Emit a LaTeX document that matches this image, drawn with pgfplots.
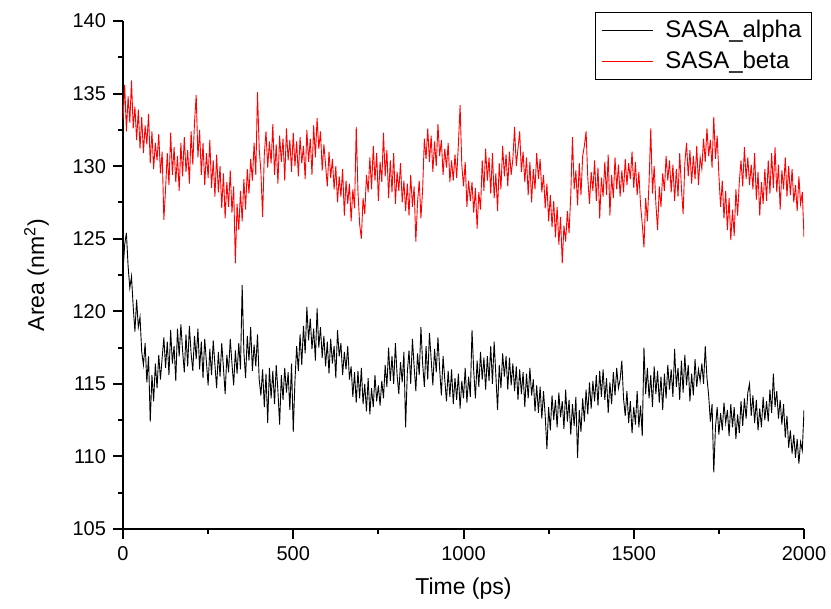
\documentclass[border=0pt]{standalone}
\usepackage{fontspec}
\setmainfont{Liberation Sans}
\usepackage{pgfplots}
\usepackage{pgfplotstable}
\pgfplotsset{compat=1.18}

% t (ps), SASA_alpha, SASA_beta (nm^2)
\pgfplotstableread{
t a b
0 122.8 133.2
5 124.6 135.6
10 125.4 132.4
15 123.1 134.8
20 121.6 133.0
25 122.4 135.9
30 120.3 132.6
35 118.6 134.1
40 120.8 131.8
45 118.9 133.9
50 119.6 131.2
55 117.2 133.4
60 116.3 130.9
65 117.8 132.8
70 115.1 131.5
75 116.9 133.6
80 112.4 130.2
85 115.6 132.4
90 113.8 129.8
95 116.4 131.6
100 114.7 130.4
105 117.0 132.2
110 115.3 129.5
115 116.8 131.0
120 118.2 126.3
125 116.1 128.4
130 117.9 130.9
135 115.6 128.7
140 118.7 132.3
145 116.4 129.4
150 117.6 131.3
155 115.2 128.9
160 118.8 130.7
165 116.9 128.3
170 119.1 131.6
175 117.3 129.3
180 115.8 132.0
185 118.4 129.6
190 116.2 131.1
195 119.0 128.8
200 117.1 132.4
205 115.9 130.1
210 118.3 133.0
215 116.7 134.9
220 118.8 130.6
225 116.0 132.5
230 117.9 129.4
235 115.4 131.6
240 118.1 128.7
245 116.5 130.9
250 114.9 129.2
255 117.4 131.8
260 115.6 128.5
265 118.0 130.4
270 116.3 127.9
275 114.7 130.8
280 117.2 128.2
285 115.5 130.0
290 117.8 127.1
295 116.1 129.5
300 114.3 126.4
305 117.0 128.9
310 115.8 127.2
315 118.1 129.7
320 116.4 126.8
325 114.9 128.6
330 117.3 123.3
335 115.7 127.4
340 117.8 125.6
345 116.0 128.3
350 121.8 126.2
355 117.2 129.1
360 115.4 127.0
365 118.3 129.8
370 116.6 128.1
375 118.9 130.5
380 115.9 129.0
385 117.7 131.6
390 116.2 129.4
395 118.4 135.1
400 115.3 131.2
405 114.2 129.6
410 116.0 126.5
415 113.4 130.8
420 115.7 132.4
425 112.3 129.9
430 116.1 131.7
435 114.0 130.2
440 115.9 132.9
445 113.6 129.4
450 116.3 131.5
455 114.5 128.8
460 112.2 132.1
465 115.6 130.3
470 113.9 131.9
475 116.1 129.0
480 114.4 132.6
485 115.8 130.4
490 113.2 131.8
495 116.4 129.6
500 111.7 132.3
505 115.2 130.0
510 117.6 131.7
515 115.9 129.3
520 118.4 132.0
525 116.3 130.2
530 119.0 131.4
535 117.1 129.1
540 120.3 132.5
545 118.0 130.3
550 119.5 131.9
555 117.4 129.4
560 118.8 132.8
565 116.6 130.6
570 120.2 133.3
575 117.5 131.2
580 118.9 132.4
585 116.8 129.7
590 118.3 131.5
595 116.2 130.1
600 117.9 128.6
605 115.7 131.0
610 118.1 129.2
615 116.4 130.5
620 117.6 128.4
625 115.4 130.0
630 118.7 127.5
635 116.9 129.3
640 117.8 127.9
645 115.6 129.8
650 117.2 126.6
655 116.0 129.0
660 117.6 127.4
665 115.3 128.8
670 116.2 126.2
675 114.1 128.4
680 115.8 127.1
685 113.7 132.7
690 115.9 128.3
695 114.0 126.0
700 116.1 125.0
705 113.6 127.8
710 115.0 126.7
715 113.1 129.4
720 115.4 128.2
725 112.9 130.6
730 114.7 128.4
735 113.4 131.4
740 115.6 129.0
745 113.8 130.9
750 114.9 127.6
755 113.5 130.3
760 115.2 128.9
765 114.0 132.3
770 116.3 129.3
775 114.8 131.1
780 117.5 127.8
785 115.2 130.4
790 116.9 128.2
795 115.0 130.9
800 117.8 127.4
805 115.6 129.6
810 114.3 128.3
815 116.5 130.2
820 115.1 127.5
825 117.2 129.0
830 112.0 126.9
835 115.8 128.8
840 117.3 126.6
845 115.0 129.4
850 118.1 127.2
855 116.2 128.6
860 114.5 124.8
865 117.1 127.5
870 115.6 129.0
875 118.9 126.4
880 116.4 128.4
885 114.8 131.9
890 117.6 130.5
895 115.3 132.6
900 118.5 130.3
905 116.7 132.1
910 114.9 129.6
915 117.4 131.7
920 115.8 130.0
925 118.2 132.9
930 116.0 130.7
935 114.2 131.8
940 116.9 129.4
945 115.3 131.2
950 113.8 129.9
955 115.9 131.6
960 114.1 128.9
965 116.0 130.4
970 113.6 129.0
975 115.4 130.8
980 113.9 129.2
985 115.7 131.5
990 113.3 134.2
995 115.2 130.1
1000 114.0 128.6
1005 116.1 130.3
1010 113.7 127.2
1015 115.5 129.0
1020 114.1 127.6
1025 118.7 128.9
1030 115.9 126.8
1035 114.0 128.5
1040 116.6 125.7
1045 114.8 128.2
1050 117.2 127.0
1055 115.3 130.4
1060 116.8 128.3
1065 114.6 131.2
1070 116.9 129.0
1075 115.2 130.6
1080 117.6 128.1
1085 115.0 130.9
1090 117.9 127.8
1095 115.6 129.5
1100 113.2 126.9
1105 116.3 130.2
1110 114.7 128.4
1115 117.1 131.4
1120 115.5 129.3
1125 116.9 130.8
1130 114.6 128.6
1135 116.8 131.0
1140 114.9 129.4
1145 116.4 130.5
1150 114.5 132.7
1155 116.2 130.0
1160 113.9 131.2
1165 116.0 132.4
1170 114.3 129.6
1175 115.8 131.0
1180 113.4 128.9
1185 115.7 130.6
1190 114.0 128.0
1195 116.1 130.3
1200 114.2 127.5
1205 115.3 129.8
1210 113.1 128.4
1215 114.9 130.9
1220 113.0 129.1
1225 114.8 130.5
1230 112.6 128.2
1235 114.5 129.4
1240 112.8 127.1
1245 110.5 128.8
1250 113.4 126.2
1255 111.8 128.0
1260 114.2 125.8
1265 112.5 127.6
1270 113.9 125.1
1275 112.0 127.2
1280 114.4 124.6
1285 112.7 126.5
1290 113.8 123.3
1295 111.9 125.9
1300 114.6 124.8
1305 112.4 126.9
1310 113.9 125.4
1315 111.5 128.0
1320 113.6 132.0
1325 112.1 128.4
1330 114.1 129.7
1335 109.9 127.3
1340 113.2 130.2
1345 111.7 128.0
1350 114.0 130.7
1355 112.4 131.4
1360 114.6 132.4
1365 112.9 129.2
1370 115.1 127.4
1375 113.3 129.6
1380 115.2 128.3
1385 113.8 130.4
1390 115.6 127.6
1395 113.5 129.9
1400 115.9 126.4
1405 114.1 129.2
1410 116.0 127.9
1415 113.9 130.3
1420 115.4 128.0
1425 113.0 130.8
1430 115.1 126.6
1435 113.6 129.4
1440 115.8 127.8
1445 114.2 130.6
1450 116.1 128.4
1455 114.7 130.1
1460 115.3 127.9
1465 116.6 129.7
1470 114.0 128.2
1475 112.8 130.5
1480 114.5 128.7
1485 112.3 130.2
1490 113.8 129.1
1495 111.6 131.0
1500 113.4 128.5
1505 112.2 130.3
1510 114.5 128.0
1515 112.0 129.6
1520 113.5 127.3
1525 111.4 126.0
1530 117.5 124.4
1535 114.3 127.8
1540 116.1 126.2
1545 114.0 128.9
1550 115.6 132.6
1555 113.4 128.1
1560 116.2 130.0
1565 114.3 127.4
1570 115.9 125.6
1575 113.7 128.6
1580 115.5 127.2
1585 113.2 129.5
1590 115.7 128.3
1595 114.0 130.7
1600 116.3 129.0
1605 114.6 130.4
1610 116.0 128.2
1615 114.1 130.1
1620 117.4 127.6
1625 114.8 129.8
1630 116.1 127.9
1635 113.9 130.9
1640 116.6 128.5
1645 114.4 126.7
1650 117.0 130.2
1655 114.9 131.6
1660 116.3 129.3
1665 113.8 131.1
1670 115.7 128.8
1675 114.2 130.7
1680 116.7 129.1
1685 114.8 131.4
1690 116.0 128.7
1695 115.2 130.6
1700 116.4 129.8
1705 115.0 131.9
1710 117.6 130.3
1715 115.4 132.6
1720 114.2 130.7
1725 112.4 131.8
1730 113.6 129.9
1735 108.9 133.4
1740 112.0 130.5
1745 113.4 132.1
1750 111.5 129.4
1755 113.0 127.2
1760 111.8 129.0
1765 113.7 126.4
1770 112.3 128.3
1775 113.2 125.6
1780 111.4 127.8
1785 113.6 124.9
1790 112.0 127.0
1795 113.4 125.2
1800 111.2 128.4
1805 112.9 126.6
1810 111.6 128.9
1815 113.8 130.4
1820 112.1 128.6
1825 114.0 131.3
1830 112.6 129.1
1835 114.4 130.6
1840 115.0 128.7
1845 112.8 130.1
1850 114.2 128.4
1855 112.3 130.9
1860 113.9 127.7
1865 111.8 129.6
1870 113.3 126.6
1875 112.0 128.9
1880 114.1 127.4
1885 112.5 129.8
1890 113.8 127.6
1895 112.4 130.4
1900 114.6 128.1
1905 113.0 130.9
1910 115.7 128.5
1915 113.4 131.3
1920 114.5 128.2
1925 112.6 130.1
1930 113.9 127.0
1935 112.2 129.7
1940 113.6 128.4
1945 111.3 130.6
1950 112.8 127.9
1955 110.6 130.0
1960 111.8 128.0
1965 110.2 129.8
1970 111.5 127.5
1975 109.9 128.7
1980 111.2 126.9
1985 109.5 129.3
1990 111.0 127.4
1995 110.4 128.2
2000 113.2 125.1
}\sasa

\begin{document}
\begin{tikzpicture}
\path[use as bounding box] (-61.5pt,-40pt) rectangle (354pt,264.5pt);
\begin{axis}[
scale only axis,width=340.5pt,height=254pt,
xmin=0,xmax=2000,ymin=105,ymax=140,
axis x line=bottom,axis y line=left,
axis line style={-,line width=1pt},
xtick={0,500,1000,1500,2000},ytick={105,110,...,140},
minor tick num=1,tick align=outside,
major tick length=5pt,minor tick length=2.5pt,
tick style={line width=1pt,black},
tick label style={font=\fontsize{10}{12}\selectfont},
/pgf/number format/assume math mode=true,
/pgf/number format/1000 sep={},
xlabel={Time (ps)},ylabel={Area (nm\textsuperscript{2})},
label style={font=\fontsize{11.5}{13}\selectfont},
xlabel style={yshift=-2pt},
ylabel style={yshift=5pt},
legend style={at={(1.0117,1.0177)},anchor=north east,draw=black,line width=0.6pt,
  font=\fontsize{12}{14}\selectfont,legend cell align=left,
  inner xsep=3pt,inner ysep=2pt,row sep=1pt,
  /tikz/every odd column/.append style={column sep=4pt}},
legend image code/.code={\draw[#1,line width=0.4pt] (0.1cm,0cm) -- (1.0cm,0cm);},
]
\addplot[black,line width=0.45pt,no marks] table[x=t,y=a] {\sasa};
\addlegendentry{SASA\_alpha}
\addplot[red,line width=0.45pt,no marks] table[x=t,y=b] {\sasa};
\addlegendentry{SASA\_beta}
\end{axis}
\end{tikzpicture}
\end{document}
